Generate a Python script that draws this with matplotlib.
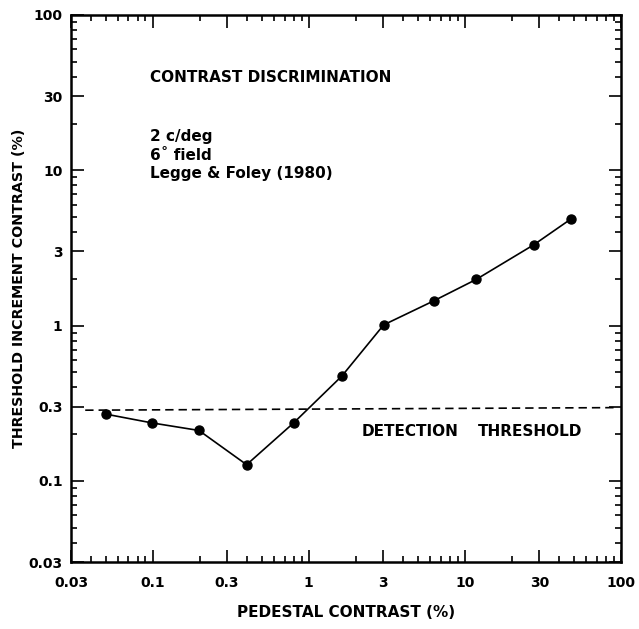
import matplotlib
matplotlib.use("Agg")
import matplotlib.pyplot as plt
from matplotlib.ticker import LogLocator, FixedLocator, FixedFormatter, NullFormatter

plt.rcParams['font.family'] = ['DejaVu Sans']
plt.rcParams['font.weight'] = 'bold'

# Data
pedestal = [0.05, 0.099, 0.198, 0.40, 0.80, 1.63, 3.02, 6.3, 11.8, 27.6, 48.0]
threshold = [0.269, 0.236, 0.211, 0.127, 0.236, 0.473, 1.01, 1.44, 1.98, 3.31, 4.87]
detect_x = [0.037, 90.0]
detect_y = [0.285, 0.296]
tick_vals = [0.03, 0.1, 0.3, 1, 3, 10, 30, 100]
tick_labels = ['0.03', '0.1', '0.3', '1', '3', '10', '30', '100']

fig = plt.figure(figsize=(6.39, 6.29), dpi=100)
ax = fig.add_axes([71/639, 1-562/629, 550/639, 547/629])
ax.set_xscale('log')
ax.set_yscale('log')
ax.set_xlim(0.03, 100)
ax.set_ylim(0.03, 100)

ax.plot(pedestal, threshold, color='black', lw=1.2, marker='o', ms=6.5, mfc='black', mec='black')
ax.plot(detect_x, detect_y, color='black', lw=1.2, dashes=(5, 3))

for axis in (ax.xaxis, ax.yaxis):
    axis.set_major_locator(FixedLocator(tick_vals))
    axis.set_major_formatter(FixedFormatter(tick_labels))
    axis.set_minor_locator(LogLocator(base=10, subs=range(2, 10), numticks=20))
    axis.set_minor_formatter(NullFormatter())

ax.tick_params(which='both', direction='in', top=True, right=True, width=1.2, colors='black')
ax.tick_params(which='major', length=9)
ax.tick_params(which='minor', length=4)
ax.tick_params(axis='x', which='major', pad=10, labelsize=10)
ax.tick_params(axis='y', which='major', pad=6, labelsize=10)
for s in ax.spines.values():
    s.set_linewidth(1.8)

for lab in ax.get_xticklabels() + ax.get_yticklabels():
    lab.set_fontweight('bold')

ax.set_xlabel('PEDESTAL CONTRAST (%)', fontsize=11, fontweight='bold', labelpad=11)
ax.set_ylabel('THRESHOLD INCREMENT CONTRAST (%)', fontsize=10.3, fontweight='bold', labelpad=2)

tf = dict(fontsize=11, fontweight='bold', transform=fig.transFigure, va='center', ha='left')
fig.text(150/639, 1-78/629, 'CONTRAST DISCRIMINATION', **tf)
fig.text(150/639, 1-136/629, '2 c/deg', **tf)
fig.text(150/639, 1-155/629, '6˚ field', **tf)
fig.text(150/639, 1-174/629, 'Legge & Foley (1980)', **tf)
fig.text(362/639, 1-431/629, 'DETECTION', **tf)
fig.text(478/639, 1-431/629, 'THRESHOLD', **tf)

fig.savefig('out.png', dpi=100)
